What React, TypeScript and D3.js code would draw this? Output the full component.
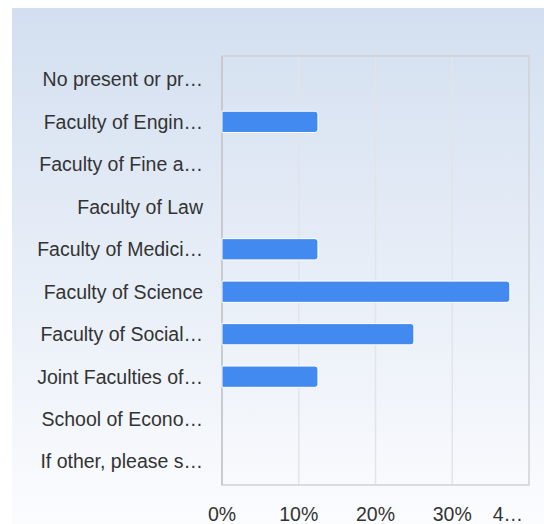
import React from "react";
import * as d3 from "d3";

const categories = [
  "No present or pr…",
  "Faculty of Engin…",
  "Faculty of Fine a…",
  "Faculty of Law",
  "Faculty of Medici…",
  "Faculty of Science",
  "Faculty of Social…",
  "Joint Faculties of…",
  "School of Econo…",
  "If other, please s…",
];
const values = [0, 12.5, 0, 0, 12.5, 37.5, 25, 12.5, 0, 0];
const ticks = [0, 10, 20, 30, 40];
const tickLabels = ["0%", "10%", "20%", "30%", "4…"];

const W = 544;
const H = 524;
const plot = { left: 222, right: 529, top: 56, bottom: 485 };

export default function App() {
  const x = d3.scaleLinear().domain([0, 40]).range([plot.left, plot.right]);
  const y = d3
    .scaleBand<string>()
    .domain(categories)
    .range([plot.top, plot.bottom])
    .paddingInner(0.5)
    .paddingOuter(0.3);
  const font = "'Liberation Sans', Arial, sans-serif";
  const r = 3;
  return (
    <svg
      width={W}
      height={H}
      style={{ position: "absolute", left: 0, top: 0 }}
    >
      <defs>
        <linearGradient id="bg" x1="0" y1="0" x2="0" y2="1">
          <stop offset="0%" stopColor="#d3dff0" />
          <stop offset="100%" stopColor="#fbfcfe" />
        </linearGradient>
      </defs>
      <rect x={0} y={0} width={W} height={H} fill="#ffffff" />
      <rect x={12} y={8} width={W - 12} height={H - 8} fill="url(#bg)" />
      {ticks.slice(1, -1).map((t) => (
        <line
          key={t}
          x1={x(t)}
          x2={x(t)}
          y1={plot.top}
          y2={plot.bottom}
          stroke="#e2e4e8"
          strokeWidth={1.5}
        />
      ))}
      <rect
        x={plot.left}
        y={plot.top}
        width={plot.right - plot.left}
        height={plot.bottom - plot.top}
        fill="none"
        stroke="#cfd2d6"
        strokeWidth={1.5}
      />
      <line
        x1={plot.left}
        x2={plot.left}
        y1={plot.top}
        y2={plot.bottom}
        stroke="#c4c6ca"
        strokeWidth={1.5}
      />
      {categories.map((c, i) => {
        const v = values[i];
        if (v <= 0) return null;
        const x0 = x(0);
        const x1 = x(v);
        const y0 = y(c)!;
        const h = y.bandwidth();
        const d = `M${x0},${y0} H${x1 - r} Q${x1},${y0} ${x1},${y0 + r} V${
          y0 + h - r
        } Q${x1},${y0 + h} ${x1 - r},${y0 + h} H${x0} Z`;
        return (
          <path
            key={c}
            d={d}
            fill="#4289f0"
            stroke="#ffffff"
            strokeWidth={1}
          />
        );
      })}
      {categories.map((c) => (
        <text
          key={c}
          x={203}
          y={y(c)! + y.bandwidth() / 2}
          dy="0.35em"
          textAnchor="end"
          fontFamily={font}
          fontSize={19.5}
          fill="#333333"
        >
          {c}
        </text>
      ))}
      {ticks.map((t, i) => {
        const last = i === ticks.length - 1;
        return (
          <text
            key={t}
            x={last ? x(t) - 6 : x(t)}
            y={521}
            textAnchor={last ? "end" : "middle"}
            fontFamily={font}
            fontSize={19.5}
            fill="#333333"
          >
            {tickLabels[i]}
          </text>
        );
      })}
    </svg>
  );
}
